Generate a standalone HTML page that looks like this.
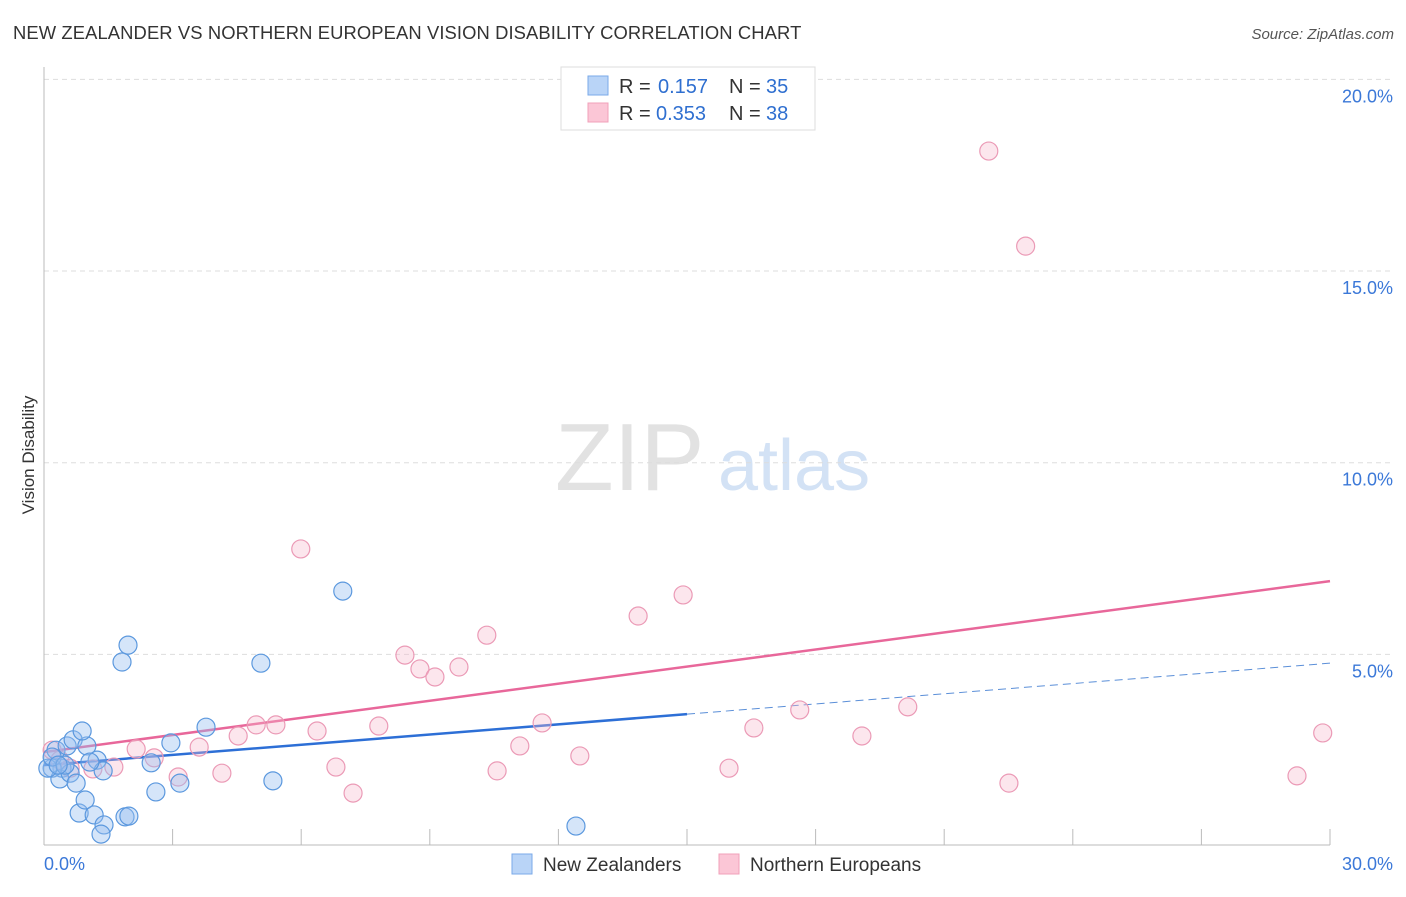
<!DOCTYPE html>
<html><head><meta charset="utf-8"><style>
body{margin:0;background:#fff;font-family:"Liberation Sans",sans-serif;}
svg text{font-family:"Liberation Sans",sans-serif;}
</style></head><body>
<svg id="chart" width="1406" height="892" xmlns="http://www.w3.org/2000/svg">
<text x="13" y="39" font-size="18.4" fill="#333" letter-spacing="0.1">NEW ZEALANDER VS NORTHERN EUROPEAN VISION DISABILITY CORRELATION CHART</text>
<text x="1394" y="39" font-size="15" fill="#555" text-anchor="end" font-style="italic">Source: ZipAtlas.com</text>
<text transform="translate(34,455) rotate(-90)" font-size="17" fill="#333" text-anchor="middle">Vision Disability</text>
<g><text x="555" y="490" font-size="96" fill="#e2e2e2" font-family="Liberation Serif,serif">ZIP</text><text x="718" y="490" font-size="72" fill="#d3e2f5">atlas</text></g>
<g id="grid"></g>
<g id="axes"></g>
<g id="lines"></g>
<g id="pts"></g>
<g>
<rect x="561" y="67" width="254" height="63" fill="#fff" stroke="#ddd"/>
<rect x="588" y="76" width="20" height="19" fill="#b9d4f7" stroke="#7aaae8"/>
<rect x="588" y="103" width="20" height="19" fill="#fbc6d6" stroke="#f0a0ba"/>
<text x="619" y="93" font-size="20" fill="#333">R = </text><text x="658" y="93" font-size="20" fill="#2f6fd0">0.157</text>
<text x="729" y="93" font-size="20" fill="#333">N = </text><text x="766" y="93" font-size="20" fill="#2f6fd0">35</text>
<text x="619" y="120" font-size="20" fill="#333">R = </text><text x="656" y="120" font-size="20" fill="#2f6fd0">0.353</text>
<text x="729" y="120" font-size="20" fill="#333">N = </text><text x="766" y="120" font-size="20" fill="#2f6fd0">38</text>
</g>
<g>
<rect x="512" y="854" width="20" height="20" fill="#b9d4f7" stroke="#7aaae8"/>
<text x="543" y="871" font-size="19" fill="#333">New Zealanders</text>
<rect x="719" y="854" width="20" height="20" fill="#fbc6d6" stroke="#f0a0ba"/>
<text x="750" y="871" font-size="19" fill="#333">Northern Europeans</text>
</g>
</svg>
<script>
const yTicks=[5,10,15,20];
const yTickLabels=["5.0%","10.0%","15.0%","20.0%"];
const xTickLabels=["0.0%","30.0%"];
const blueX=[0.28,0.42,0.19,0.37,0.61,0.54,0.68,1.00,0.89,0.75,0.82,0.96,1.17,1.24,1.38,1.40,1.33,1.89,1.98,1.82,1.96,2.61,2.50,2.96,3.17,3.78,5.06,5.34,6.97,12.41,0.09,0.19,0.49,1.07,0.33];
const blueY=[2.50,2.03,2.03,1.75,1.90,2.61,2.77,2.61,3.00,1.64,0.86,1.20,0.81,2.24,1.96,0.55,0.31,0.76,0.78,4.80,5.24,1.41,2.17,2.69,1.64,3.10,4.77,1.70,6.65,0.52,2.03,2.32,2.11,2.19,2.11];
const pinkX=[0.19,0.37,0.61,1.14,1.63,2.15,2.57,3.13,3.62,4.15,4.53,4.95,5.41,5.99,6.37,6.81,7.21,7.81,8.42,8.77,9.12,9.68,10.33,10.57,11.10,11.62,12.50,13.86,14.91,15.98,16.56,17.63,19.08,20.15,22.04,22.51,22.90,29.23,29.83];
const pinkY=[2.50,2.24,2.03,2.01,2.06,2.53,2.30,1.80,2.58,1.90,2.87,3.16,3.16,7.75,3.00,2.06,1.38,3.13,4.98,4.62,4.41,4.67,5.50,1.96,2.61,3.21,2.35,6.00,6.55,2.03,3.08,3.55,2.87,3.63,18.13,1.64,15.65,1.83,2.95];
const blueTrend=[2.11,4.77]; // value at 0% and 30%
const pinkTrend=[2.45,6.91];
const NS="http://www.w3.org/2000/svg";
const sx=v=>44+v*1286/30;
const sy=v=>846-v*38.33;
function mk(tag,attrs,parent){const e=document.createElementNS(NS,tag);for(const k in attrs)e.setAttribute(k,attrs[k]);document.getElementById(parent).appendChild(e);return e;}
yTicks.forEach((t,i)=>{
  const l=mk('line',{x1:44,x2:1394,y1:sy(t),y2:sy(t),stroke:'#ddd','stroke-dasharray':'5,4'},'grid');
  
  
  const tx=mk('text',{x:1393,y:sy(t)+23,'font-size':18,fill:'#3b78d8','text-anchor':'end'},'grid');
  tx.textContent=yTickLabels[i];
  
  
});
const ya=mk('line',{x1:44,x2:44,y1:67,y2:845,stroke:'#bbb'},'axes');


const xa=mk('line',{x1:44,x2:1330,y1:845,y2:845,stroke:'#bbb'},'axes');


for(let i=1;i<=10;i++){const x=sx(i*3);const t=mk('line',{x1:x,x2:x,y1:829,y2:845,stroke:'#bbb'},'axes');

}
xTickLabels.forEach((s,i)=>{const t=mk('text',{x:i?1393:44,y:870,'font-size':18,fill:'#3b78d8','text-anchor':i?'end':'start'},'axes');t.textContent=s;

});
function pts(xs,ys,fill,stroke,name){xs.forEach((x,i)=>{const c=mk('circle',{cx:sx(x),cy:sy(ys[i]),r:9,fill:fill,stroke:stroke,'stroke-width':1.2},'pts');

});}
pts(pinkX,pinkY,'rgba(246,182,202,0.35)','#eb9ab6','northern-european-point');
pts(blueX,blueY,'rgba(150,190,240,0.4)','#5b98de','new-zealander-point');
const bv=x=>blueTrend[0]+(blueTrend[1]-blueTrend[0])*x/30;
const pl=mk('line',{x1:sx(0),y1:sy(pinkTrend[0]),x2:sx(30),y2:sy(pinkTrend[1]),stroke:'#e8679a','stroke-width':2.5},'lines');


const bl=mk('line',{x1:sx(0),y1:sy(bv(0)),x2:sx(15),y2:sy(bv(15)),stroke:'#2d6fd6','stroke-width':2.5},'lines');


const bd=mk('line',{x1:sx(15),y1:sy(bv(15)),x2:sx(30),y2:sy(bv(30)),stroke:'#5b8fd8','stroke-width':1,'stroke-dasharray':'8,5'},'lines');


</script>
</body></html>
